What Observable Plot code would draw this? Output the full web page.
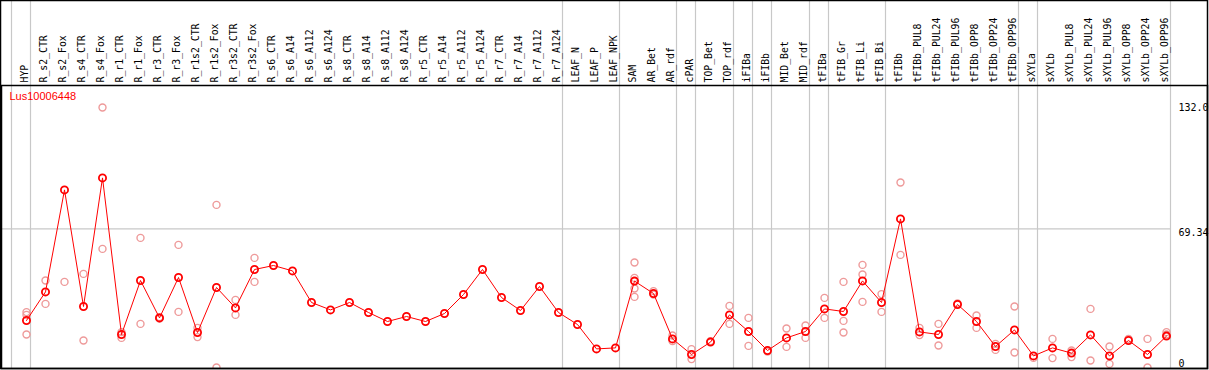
<!DOCTYPE html>
<html><head><meta charset="utf-8">
<script src="https://cdn.jsdelivr.net/npm/d3@7"></script>
<script src="https://cdn.jsdelivr.net/npm/@observablehq/plot@0.6"></script>
<style>body{margin:0;background:#fff}#chart{position:absolute;left:0;top:0}</style>
</head><body><div id="chart"></div>
<script>
const title = "Lus10006448";
const categories = ["HYP","R_s2_CTR","R_s2_Fox","R_s4_CTR","R_s4_Fox","R_r1_CTR","R_r1_Fox","R_r3_CTR","R_r3_Fox","R_r1s2_CTR","R_r1s2_Fox","R_r3s2_CTR","R_r3s2_Fox","R_s6_CTR","R_s6_A14","R_s6_A112","R_s6_A124","R_s8_CTR","R_s8_A14","R_s8_A112","R_s8_A124","R_r5_CTR","R_r5_A14","R_r5_A112","R_r5_A124","R_r7_CTR","R_r7_A14","R_r7_A112","R_r7_A124","LEAF_N","LEAF_P","LEAF_NPK","SAM","AR_Bet","AR_rdf","cPAR","TOP_Bet","TOP_rdf","iFIBa","iFIBb","MID_Bet","MID_rdf","tFIBa","tFIB_Gr","tFIB_Li","tFIB_Bi","tFIBb","tFIBb_PUL8","tFIBb_PUL24","tFIBb_PUL96","tFIBb_OPP8","tFIBb_OPP24","tFIBb_OPP96","sXYLa","sXYLb","sXYLb_PUL8","sXYLb_PUL24","sXYLb_PUL96","sXYLb_OPP8","sXYLb_OPP24","sXYLb_OPP96"];
const means = [23.5,37.8,88.8,30.5,94.8,16.5,43.5,24.8,45,17.5,40,29.8,49,51,48.3,32.5,28.8,32.5,27.5,23,25.5,23,27,36.5,49,35,28.5,40.5,27.5,21.5,9.3,9.8,43.2,37,14.3,6.5,12.7,26.3,18,8.5,14.8,18,29.3,28,43.3,32.5,74.3,17.8,16.5,31.5,23,10.5,18.8,5.8,9.8,7.2,16.3,5.8,13.5,6.5,15.7];
const replicates = [[27.7,26.3,16.5],[43.5,31.8],[42.8],[46.8,13.5],[59.3,130],[17.7,14.8],[64.8,21.8],[25.2,24.5],[61.3,27.8],[19.8,15.2],[81.3,0],[33.8,26.3],[54.8,42.8],
  [],[],[],[],[],[],[],[],[],[],[],[],[],[],[],[],[],[],[],
  [52.5,44.8,39.5,35.3],[38.2,36.5],[16,13.2],[9.2,4.2],[13.2],[30.8,21.8],[24.8,10.8],[8.0],[19.5,10.3],[21,14.8],[34.8,24.8],[42.8,23.3,17.5],[51.3,46.5,32.8],[36.7,27.8],[92.5,56.3],[19.8,16.2],[21.8,11],[32],[26,19.8],[11.8,8.8],[30.5,7.5],[4.8],[14.3,4.7],[8.5,5.2],[29.3,3.5],[10.5,1.8],[14.3],[14.3,0],[17.7,16.5]];
const groupStarts = ["HYP","R_s2_CTR","LEAF_N","SAM","cPAR","TOP_Bet","iFIBa","iFIBb","MID_Bet","tFIBa","tFIB_Gr","tFIBb","sXYLa","sXYLb"];
const yTickValues = [132.0, 69.34, 0];
const yTickLabels = ["132.0", "69.34", "0"];
const gridValues = [69.34];

// layout
const W = 1209, H = 370, mTop = 85, mLeft = 1, mRight = 2, mBottom = 2;
const step = 19, firstX = 26;
const slotLeft = 15 / step, slotRight = 4 / step;
const xDomain = [(mLeft - firstX) / step, (W - mRight - firstX) / step];
const yDomain = [-0.5, 141];
const n = categories.length;
const endPos = n - 1 + slotRight;

const meanData = means.map((v, i) => ({i, v}));
const repData = replicates.flatMap((arr, i) => arr.map(v => ({i, v})));
const mono = "DejaVu Sans Mono";

const plot = Plot.plot({
  width: W, height: H,
  marginTop: mTop, marginLeft: mLeft, marginRight: mRight, marginBottom: mBottom,
  x: {type: "linear", domain: xDomain, axis: null},
  y: {type: "linear", domain: yDomain, axis: null},
  style: {background: "white", overflow: "visible"},
  marks: [
    Plot.ruleY(gridValues, {y: d => d, x1: xDomain[0], x2: endPos, stroke: "#c8c8c8", strokeWidth: 1.2}),
    Plot.ruleX(groupStarts, {x: d => categories.indexOf(d) - slotLeft, stroke: "#c8c8c8", strokeWidth: 1.2, insetTop: -mTop}),
    Plot.ruleX([endPos], {x: d => d, stroke: "#c8c8c8", strokeWidth: 1.2, insetTop: -mTop}),
    Plot.dot(repData, {x: "i", y: "v", r: 3.5, stroke: "#ee9a9a", strokeWidth: 1.4, fill: "none", clip: true}),
    Plot.line(meanData, {x: "i", y: "v", stroke: "red", strokeWidth: 1}),
    Plot.dot(meanData, {x: "i", y: "v", r: 3.6, stroke: "red", strokeWidth: 1.8, fill: "none"}),
    Plot.text(categories, {x: (d, i) => i, frameAnchor: "top", text: d => d, rotate: -90, textAnchor: "start", lineAnchor: "middle", dx: -2, dy: -3, fontFamily: mono, fontSize: 9.8, fill: "black"}),
    Plot.text(yTickValues.filter(v => v !== 0), {y: d => d, x: () => endPos + 8 / step, text: d => yTickLabels[yTickValues.indexOf(d)], textAnchor: "start", lineAnchor: "top", fontFamily: mono, fontSize: 10, fill: "black"}),
    Plot.text(yTickValues.filter(v => v === 0), {y: d => d, x: () => endPos + 8 / step, text: d => yTickLabels[yTickValues.indexOf(d)], textAnchor: "start", lineAnchor: "bottom", dy: -1, fontFamily: mono, fontSize: 10, fill: "black"}),
    Plot.text([title], {frameAnchor: "top-left", text: d => d, dx: 8, dy: 7, textAnchor: "start", lineAnchor: "top", fill: "red", fontFamily: "Liberation Sans", fontSize: 11}),
    Plot.frame({stroke: "black", strokeWidth: 1.5})
  ]
});
const svg = d3.select(plot);
svg.append("rect").attr("x", 0.5).attr("y", 0.5).attr("width", W - mRight).attr("height", H - mBottom)
  .attr("fill", "none").attr("stroke", "black").attr("stroke-width", 1.5);
document.getElementById("chart").append(plot);
</script></body></html>
